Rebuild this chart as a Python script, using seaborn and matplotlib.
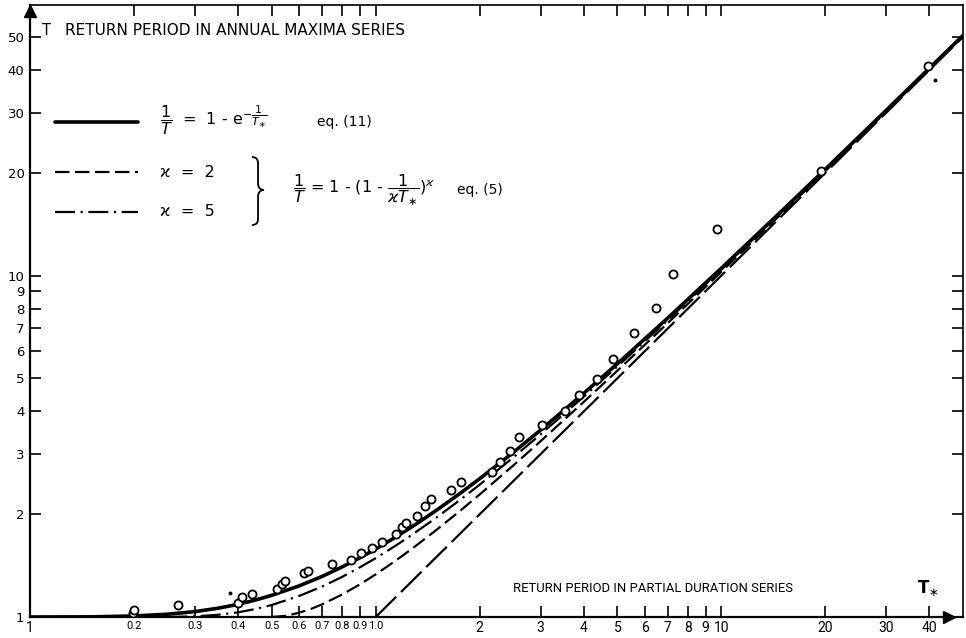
import matplotlib
matplotlib.use("Agg")
import matplotlib.pyplot as plt
from matplotlib.path import Path
from matplotlib.patches import PathPatch
from matplotlib.ticker import FixedLocator, FixedFormatter, NullLocator
import seaborn as sns

# theoretical curves, T (annual maxima) against T* (partial duration)
tstar_eq11 = [0.1, 0.15, 0.2, 0.25, 0.3, 0.35, 0.4, 0.45, 0.5, 0.6, 0.7, 0.8, 0.9, 1.0, 1.1, 1.2, 1.3,
              1.5, 1.75, 2, 2.5, 3, 4, 5, 7, 10, 15, 20, 30, 50]
t_eq11 = [1.0, 1.001, 1.007, 1.019, 1.037, 1.061, 1.089, 1.122, 1.157, 1.233, 1.315, 1.402, 1.491, 1.582,
          1.675, 1.769, 1.863, 2.055, 2.297, 2.542, 3.033, 3.528, 4.521, 5.517, 7.512, 10.51, 15.51, 20.5,
          30.5, 50.5]

tstar_k2 = [0.5, 0.55, 0.6, 0.65, 0.7, 0.8, 0.9, 1.0, 1.1, 1.2, 1.3, 1.5, 1.75, 2, 2.5, 3, 4, 5, 7, 10,
            15, 20, 30, 50]
t_k2 = [1.0, 1.008, 1.029, 1.056, 1.089, 1.164, 1.246, 1.333, 1.424, 1.516, 1.610, 1.8, 2.042, 2.286,
        2.778, 3.273, 4.267, 5.263, 7.259, 10.26, 15.25, 20.25, 30.25, 50.25]

tstar_k5 = [0.2, 0.22, 0.25, 0.3, 0.35, 0.4, 0.45, 0.5, 0.6, 0.7, 0.8, 0.9, 1.0, 1.1, 1.2, 1.3, 1.5,
            1.75, 2, 2.5, 3, 4, 5, 7, 10, 15, 20, 30, 50]
t_k5 = [1.0, 1.0, 1.0003, 1.004, 1.015, 1.032, 1.056, 1.084, 1.152, 1.228, 1.311, 1.398, 1.487, 1.579,
        1.672, 1.766, 1.957, 2.198, 2.442, 2.933, 3.428, 4.420, 5.416, 7.411, 10.41, 15.41, 20.4, 30.4,
        50.4]

tstar_asym = [1.0, 50]
t_asym = [1.0, 50]

# observed points
obs_tstar = [0.198, 0.2, 0.268, 0.40, 0.411, 0.439, 0.518, 0.536, 0.548, 0.620, 0.638, 0.746, 0.847,
             0.906, 0.973, 1.041, 1.144, 1.191, 1.220, 1.314, 1.393, 1.450, 1.650, 1.766, 2.17, 2.294,
             2.45, 2.60, 3.02, 3.53, 3.88, 4.36, 4.85, 5.57, 6.45, 7.23, 9.72, 19.4, 39.5]
obs_t = [1.03, 1.05, 1.084, 1.10, 1.147, 1.168, 1.206, 1.25, 1.278, 1.343, 1.362, 1.43, 1.47, 1.537,
         1.594, 1.656, 1.75, 1.83, 1.89, 1.977, 2.115, 2.222, 2.36, 2.49, 2.667, 2.85, 3.07, 3.36, 3.65,
         4.0, 4.48, 4.98, 5.71, 6.78, 8.05, 10.08, 13.7, 20.2, 41.0]
dot_tstar = [0.378, 41.5]
dot_t = [1.176, 37.5]

xticks = [0.1, 0.2, 0.3, 0.4, 0.5, 0.6, 0.7, 0.8, 0.9, 1.0, 2, 3, 4, 5, 6, 7, 8, 9, 10, 20, 30, 40]
xlabels = ["1", "0.2", "0.3", "0.4", "0.5", "0.6", "0.7", "0.8", "0.9", "1.0", "2", "3", "4", "5", "6",
           "7", "8", "9", "10", "20", "30", "40"]
yticks = [1, 2, 3, 4, 5, 6, 7, 8, 9, 10, 20, 30, 40, 50]
ylabels = [str(v) for v in yticks]

sns.set_style("ticks")
plt.rcParams["font.family"] = ["DejaVu Sans"]
plt.rcParams["text.color"] = "black"
narrow = ["Roboto", "DejaVu Sans"]

fig = plt.figure(figsize=(9.66, 6.38), dpi=100)
ax = fig.add_axes([30 / 966, 21 / 638, 933 / 966, 612 / 638])
ax.set_xscale("log")
ax.set_yscale("log")

sns.lineplot(x=tstar_eq11, y=t_eq11, ax=ax, color="black", lw=2.6, sort=False)
sns.lineplot(x=tstar_k2, y=t_k2, ax=ax, color="black", lw=1.6, sort=False, linestyle=(0, (6.5, 2.5)))
sns.lineplot(x=tstar_k5, y=t_k5, ax=ax, color="black", lw=1.6, sort=False,
             linestyle=(0, (9, 2.5, 1, 2.5)))
sns.lineplot(x=tstar_asym, y=t_asym, ax=ax, color="black", lw=1.6, sort=False, linestyle=(0, (13, 3)))
sns.scatterplot(x=obs_tstar, y=obs_t, ax=ax, marker="o", s=34, facecolor="white", edgecolor="black",
                linewidth=1.3, zorder=5)
sns.scatterplot(x=dot_tstar, y=dot_t, ax=ax, marker="o", s=8, color="black", linewidth=0, zorder=5)

ax.set_xlim(0.1, 50)
ax.set_ylim(1, 62)
ax.xaxis.set_major_locator(FixedLocator(xticks))
ax.xaxis.set_major_formatter(FixedFormatter(xlabels))
ax.xaxis.set_minor_locator(NullLocator())
ax.yaxis.set_major_locator(FixedLocator(yticks))
ax.yaxis.set_major_formatter(FixedFormatter(ylabels))
ax.yaxis.set_minor_locator(NullLocator())
ax.tick_params(axis="both", which="major", direction="in", length=8, width=1.2, labelsize=9.5,
               top=True, right=True, color="black", labelcolor="black")
ax.tick_params(axis="x", pad=3, labelsize=8)
ax.tick_params(axis="y", pad=4)
for lab in ax.get_xticklabels():
    lab.set_family(narrow)
    if "." not in lab.get_text():
        lab.set_fontsize(10)
for side, sp in ax.spines.items():
    sp.set_visible(True)
    sp.set_color("black")
    sp.set_linewidth(1.6 if side in ("left", "bottom") else 1.2)
ax.set_xlabel("")
ax.set_ylabel("")

# axis arrows
ax.plot([0], [0.99], marker="^", ms=8, color="black", transform=ax.transAxes, clip_on=False)
ax.plot([0.985], [0], marker=">", ms=9, color="black", transform=ax.transAxes, clip_on=False)

# axis titles
ax.text(0.013, 0.959, "T", transform=ax.transAxes, fontsize=10.5, va="center", ha="left")
ax.text(0.037, 0.959, "RETURN PERIOD IN ANNUAL MAXIMA SERIES", transform=ax.transAxes,
        fontsize=11, va="center", ha="left")
ax.text(0.518, 0.047, "RETURN PERIOD IN PARTIAL DURATION SERIES", transform=ax.transAxes,
        fontsize=9.4, va="center", ha="left", family=narrow)
ax.text(0.962, 0.047, r"T$_{\ast}$", transform=ax.transAxes, fontsize=12, fontweight="bold",
        va="center", ha="center")

# key
ax.plot([0.027, 0.116], [0.809, 0.809], color="black", lw=2.6, transform=ax.transAxes)
ax.plot([0.027, 0.116], [0.727, 0.727], color="black", lw=1.6, linestyle=(0, (6.5, 2.5)),
        transform=ax.transAxes)
ax.plot([0.027, 0.116], [0.662, 0.662], color="black", lw=1.6, linestyle=(0, (9, 2.5, 1, 2.5)),
        transform=ax.transAxes)
ax.text(0.139, 0.812, r"$\dfrac{1}{T}$  =  1 - e$^{-\dfrac{1}{T_{\ast}}}$", transform=ax.transAxes,
        fontsize=11.5, va="center", ha="left")
ax.text(0.308, 0.809, "eq. (11)", transform=ax.transAxes, fontsize=10, va="center", ha="left")
ax.text(0.139, 0.727, "ϰ  =  2", transform=ax.transAxes, fontsize=11.5, va="center", ha="left")
ax.text(0.139, 0.662, "ϰ  =  5", transform=ax.transAxes, fontsize=11.5, va="center", ha="left")
ax.text(0.282, 0.698, r"$\dfrac{1}{T}$ = 1 - (1 - $\dfrac{1}{\varkappa T_{\ast}}$)$^{\varkappa}$",
        transform=ax.transAxes, fontsize=11.5, va="center", ha="left")
ax.text(0.458, 0.698, "eq. (5)", transform=ax.transAxes, fontsize=10, va="center", ha="left")

# brace grouping the two kappa curves
brace = Path(
    [(0.2379, 0.7516), (0.2444, 0.7516), (0.2444, 0.7418), (0.2444, 0.7092), (0.2444, 0.6977),
     (0.2508, 0.6977), (0.2444, 0.6977), (0.2444, 0.6863), (0.2444, 0.6503), (0.2444, 0.6405),
     (0.2379, 0.6405)],
    [Path.MOVETO, Path.CURVE3, Path.CURVE3, Path.LINETO, Path.CURVE3, Path.CURVE3, Path.CURVE3,
     Path.CURVE3, Path.LINETO, Path.CURVE3, Path.CURVE3])
ax.add_patch(PathPatch(brace, fill=False, lw=1.3, color="black", transform=ax.transAxes))

fig.savefig("out.png", dpi=100)
